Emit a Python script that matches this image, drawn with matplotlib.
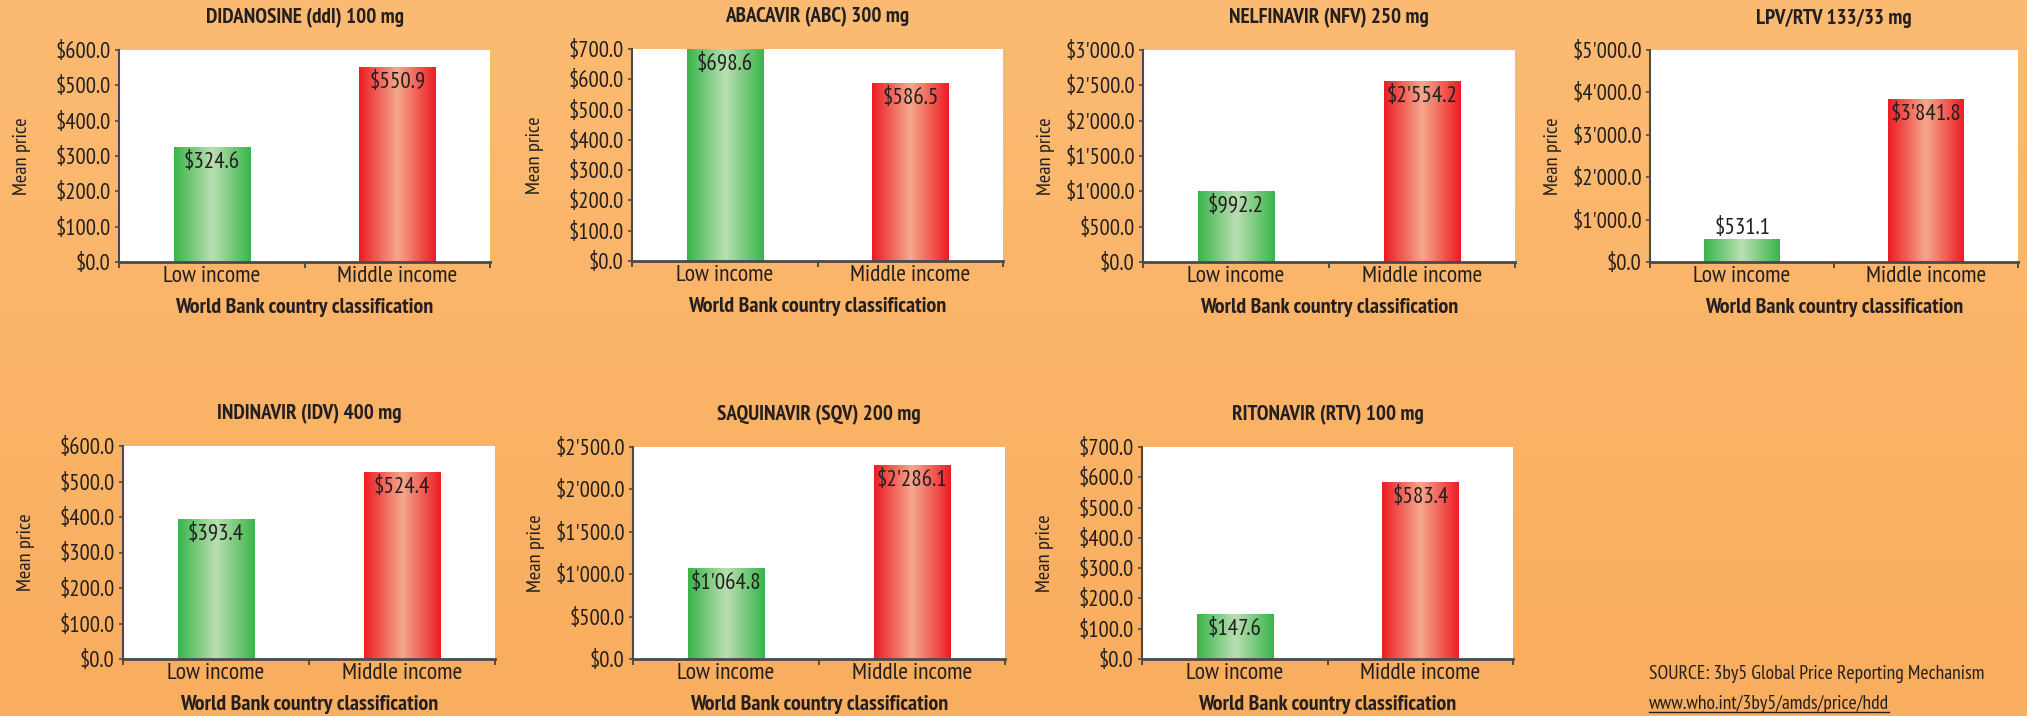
import numpy as np
import matplotlib
matplotlib.use("Agg")
import matplotlib.pyplot as plt
from matplotlib import font_manager
from matplotlib.ticker import FuncFormatter, MultipleLocator
from matplotlib.lines import Line2D

# ---------------- data ----------------
titles = ["DIDANOSINE (ddI) 100 mg", "ABACAVIR (ABC) 300 mg", "NELFINAVIR (NFV) 250 mg",
          "LPV/RTV 133/33 mg", "INDINAVIR (IDV) 400 mg", "SAQUINAVIR (SQV) 200 mg",
          "RITONAVIR (RTV) 100 mg"]
categories = ["Low income", "Middle income"]
low_income = [324.6, 698.6, 992.2, 531.1, 393.4, 1064.8, 147.6]
middle_income = [550.9, 586.5, 2554.2, 3841.8, 524.4, 2286.1, 583.4]
y_max = [600, 700, 3000, 5000, 600, 2500, 700]
y_step = [100, 100, 500, 1000, 100, 500, 100]
y_label = "Mean price"
x_label = "World Bank country classification"
source_lines = ["SOURCE: 3by5 Global Price Reporting Mechanism",
                "www.who.int/3by5/amds/price/hdd"]

# ---------------- layout ----------------
W, H = 2027, 716
DPI = 100
boxes = [(119, 490, 50, 262), (632, 1003, 49, 261), (1143, 1515, 50, 262),
         (1650, 2018, 50, 262), (123, 495, 446, 659), (633, 1005, 447, 659),
         (1142, 1513, 447, 659)]

avail = {f.name for f in font_manager.fontManager.ttflist}
stretch = "normal"
for cand in ["PT Sans Narrow", "Asap Condensed", "Fira Sans Condensed", "Archivo Narrow"]:
    if cand in avail:
        fam = [cand, "DejaVu Sans"]
        break
else:
    fam = ["DejaVu Sans"]
    stretch = "condensed"
plt.rcParams["font.family"] = fam
plt.rcParams["font.stretch"] = stretch

TXT = "#231F20"
SPINE = "#4a4a4a"

fig = plt.figure(figsize=(W / DPI, H / DPI), dpi=DPI)
renderer = fig.canvas.get_renderer()


def fit_size(s, target_px, weight="normal"):
    t = fig.text(0, 0, s, fontsize=20, fontweight=weight)
    w = t.get_window_extent(renderer).width
    t.remove()
    return 20 * target_px / w


FS_TICK = fit_size("$600.0", 55)
FS_VAL = fit_size("$324.6", 56)
FS_TITLE = fit_size(titles[0], 197, "bold")
FS_XLAB = fit_size(x_label, 258, "bold")
FS_YLAB = fit_size(y_label, 77)
FS_CAT = fit_size(categories[0], 97)
FS_SRC = fit_size(source_lines[0], 334)

# background gradient
bg = fig.add_axes([0, 0, 1, 1], zorder=-10)
top_c = np.array([252, 187, 114]) / 255
bot_c = np.array([249, 173, 94]) / 255
t = np.linspace(0, 1, 256)[:, None]
grad = top_c[None, None, :] * (1 - t[..., None]) + bot_c[None, None, :] * t[..., None]
bg.imshow(np.repeat(grad, 4, axis=1), aspect="auto", extent=[0, 1, 0, 1])
bg.set_axis_off()


def bar_gradient(edge, center, n=256):
    s = np.linspace(0, 1, n)
    w = 1 - np.abs(2 * s - 1)
    e = np.array(edge) / 255
    c = np.array(center) / 255
    img = e[None, :] * (1 - w[:, None]) + c[None, :] * w[:, None]
    return img[None, :, :]


green_img = bar_gradient((57, 181, 74), (186, 223, 178))
red_img = bar_gradient((237, 28, 36), (245, 168, 140))

money = FuncFormatter(lambda v, p: "$" + f"{v:,.1f}".replace(",", "'"))

for i, (l, r, tp, bt) in enumerate(boxes):
    ax = fig.add_axes([l / W, 1 - bt / H, (r - l) / W, (bt - tp) / H])
    ax.set_facecolor("white")
    vals = [low_income[i], middle_income[i]]
    bars = ax.bar([0, 1], vals, width=0.41, color="none", edgecolor="none", zorder=2)
    ax_h_px = bt - tp
    for b, img, v in zip(bars, [green_img, red_img], vals):
        x0 = b.get_x()
        ax.imshow(img, extent=[x0, x0 + b.get_width(), 0, b.get_height()],
                  aspect="auto", zorder=2, interpolation="bilinear")
        hpx = v / y_max[i] * ax_h_px
        lab = money(v, None)
        dy = -15 if hpx > 35 else 11
        ax.annotate(lab, (b.get_x() + b.get_width() / 2, v), xytext=(0, dy * 0.72),
                    textcoords="offset points", ha="center", va="center",
                    fontsize=FS_VAL, color=TXT, zorder=3)
    ax.set_xlim(-0.5, 1.5)
    ax.set_ylim(0, y_max[i])
    ax.yaxis.set_major_locator(MultipleLocator(y_step[i]))
    ax.yaxis.set_major_formatter(money)
    ax.set_xticks([-0.5, 0.5, 1.5])
    ax.set_xticklabels(["", "", ""])
    ax.set_xticks([0, 1], categories, minor=True)
    ax.tick_params(axis="x", which="major", direction="out", length=4.5, width=1.4, color=SPINE)
    ax.tick_params(axis="x", which="minor", length=0, pad=3, labelsize=FS_CAT, labelcolor=TXT)
    ax.tick_params(axis="y", direction="out", length=3, width=1.2, color=SPINE,
                   pad=3, labelsize=FS_TICK, labelcolor=TXT)
    for s in ["top", "right"]:
        ax.spines[s].set_visible(False)
    ax.spines["left"].set_color(SPINE)
    ax.spines["left"].set_linewidth(1.5)
    ax.spines["bottom"].set_color(SPINE)
    ax.spines["bottom"].set_linewidth(2)
    ax.set_ylabel(y_label, fontsize=FS_YLAB, color=TXT)
    ax.yaxis.set_label_coords(-97 / (r - l), 0.5)
    ax.yaxis.label.set_va("center")
    ax.set_xlabel(x_label, fontsize=FS_XLAB, fontweight="bold", color=TXT)
    ax.xaxis.set_label_coords(0.5, -46 / ax_h_px)
    ax.xaxis.label.set_va("center")
    ax.text(0.5, 1 + 32 / ax_h_px, titles[i], transform=ax.transAxes, ha="center",
            va="center", fontsize=FS_TITLE, fontweight="bold", color=TXT)

t1 = fig.text(1649 / W, 1 - 674 / H, source_lines[0], ha="left", va="center",
              fontsize=FS_SRC, color=TXT)
t2 = fig.text(1649 / W, 1 - 704 / H, source_lines[1], ha="left", va="center",
              fontsize=FS_SRC, color=TXT)
fig.canvas.draw()
bb = t2.get_window_extent()
fig.add_artist(Line2D([bb.x0 / W, bb.x1 / W], [(bb.y0 + 1) / H, (bb.y0 + 1) / H],
                      transform=fig.transFigure, color=TXT, lw=1.0))

fig.savefig("out.png", dpi=DPI)
